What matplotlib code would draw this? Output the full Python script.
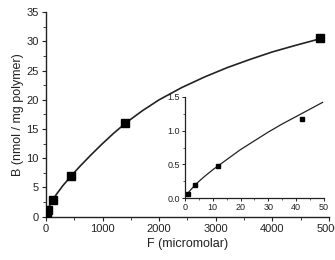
import numpy as np
import matplotlib
matplotlib.use("Agg")
import matplotlib.pyplot as plt
from matplotlib.ticker import MultipleLocator

plt.rcParams["font.family"] = ["Liberation Sans", "DejaVu Sans"]
INK = "#222222"

# measured binding (main panel)
F_pts = [1, 3.5, 12, 42, 130, 450, 1400, 4850]
B_pts = [0.06, 0.2, 0.47, 1.18, 2.9, 7.0, 16.1, 30.5]

# fitted curve
F_fit = [0, 25, 60, 120, 200, 300, 450, 600, 800, 1000, 1200, 1420, 1700,
         2000, 2400, 2800, 3200, 3600, 4000, 4400, 4900]
B_fit = [0, 0.9, 1.8, 2.9, 4.0, 5.3, 7.0, 8.6, 10.6, 12.5, 14.3, 16.1, 18.1,
         20.0, 22.1, 23.9, 25.5, 26.9, 28.2, 29.3, 30.6]

# inset: low-concentration region
F_in = [1, 3.5, 12, 42]
B_in = [0.06, 0.2, 0.47, 1.18]
F_in_fit = [0, 1, 2, 4, 7, 10, 12, 15, 20, 25, 30, 35, 40, 45, 49.5]
B_in_fit = [0, 0.07, 0.12, 0.21, 0.32, 0.42, 0.48, 0.57, 0.72, 0.85, 0.98,
            1.10, 1.21, 1.32, 1.42]

fig = plt.figure(figsize=(3.35, 2.6), dpi=100)
ax = fig.add_axes([0.137, 0.167, 0.845, 0.786])
ax.plot(F_fit, B_fit, color=INK, lw=1.2, zorder=2)
ax.plot(F_pts, B_pts, ls="none", marker="s", ms=5.5, color="black", zorder=3)
ax.set_xlim(0, 5000)
ax.set_ylim(0, 35)
ax.xaxis.set_major_locator(MultipleLocator(1000))
ax.xaxis.set_minor_locator(MultipleLocator(500))
ax.yaxis.set_major_locator(MultipleLocator(5))
ax.yaxis.set_minor_locator(MultipleLocator(2.5))
for s in ("top", "right"):
    ax.spines[s].set_visible(False)
for s in ("left", "bottom"):
    ax.spines[s].set_color(INK)
    ax.spines[s].set_linewidth(1.0)
ax.tick_params(which="major", length=3, width=0.8, colors=INK, labelsize=8, pad=2)
ax.tick_params(which="minor", length=2, width=0.6, colors=INK)
ax.set_xlabel("F (micromolar)", fontsize=9, color=INK, labelpad=3)
ax.set_ylabel("B (nmol / mg polymer)", fontsize=9, color=INK, labelpad=2)

ins = fig.add_axes([0.552, 0.238, 0.415, 0.389])
ins.patch.set_alpha(0)
ins.plot(F_in_fit, B_in_fit, color=INK, lw=0.9, zorder=2)
ins.plot(F_in, B_in, ls="none", marker="s", ms=3, color="black", zorder=3)
ins.set_xlim(0, 50)
ins.set_ylim(0, 1.5)
ins.xaxis.set_major_locator(MultipleLocator(10))
ins.xaxis.set_minor_locator(MultipleLocator(5))
ins.yaxis.set_major_locator(MultipleLocator(0.5))
ins.yaxis.set_minor_locator(MultipleLocator(0.25))
ins.yaxis.set_major_formatter(plt.FormatStrFormatter("%.1f"))
for s in ("top", "right"):
    ins.spines[s].set_visible(False)
for s in ("left", "bottom"):
    ins.spines[s].set_color(INK)
    ins.spines[s].set_linewidth(0.9)
ins.tick_params(which="major", length=2, width=0.7, colors=INK, labelsize=6.5, pad=1.5)
ins.tick_params(which="minor", length=1.2, width=0.5, colors=INK)

fig.savefig("out.png", dpi=100)
